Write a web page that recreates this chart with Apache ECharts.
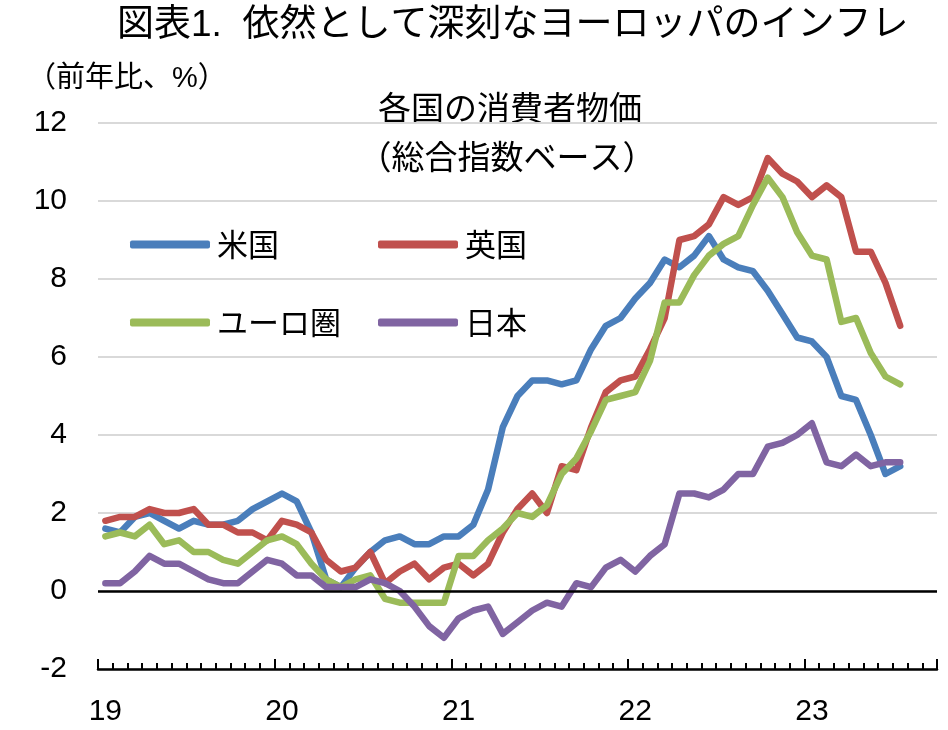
<!DOCTYPE html>
<html>
<head>
<meta charset="utf-8">
<script src="https://cdn.jsdelivr.net/npm/echarts@6/dist/echarts.min.js"></script>
<style>
  html, body { margin: 0; padding: 0; background: #fff; }
  #chart { width: 948px; height: 730px; }
</style>
</head>
<body>
<div id="chart"></div>
<script>
// 月次カテゴリ（2019年1月〜2023年9月）
const months = [
  '19/1','19/2','19/3','19/4','19/5','19/6','19/7','19/8','19/9','19/10','19/11','19/12',
  '20/1','20/2','20/3','20/4','20/5','20/6','20/7','20/8','20/9','20/10','20/11','20/12',
  '21/1','21/2','21/3','21/4','21/5','21/6','21/7','21/8','21/9','21/10','21/11','21/12',
  '22/1','22/2','22/3','22/4','22/5','22/6','22/7','22/8','22/9','22/10','22/11','22/12',
  '23/1','23/2','23/3','23/4','23/5','23/6','23/7','23/8','23/9'
];

// 前年比（%）
const usCpi = [
  1.6, 1.5, 1.9, 2.0, 1.8, 1.6, 1.8, 1.7, 1.7, 1.8, 2.1, 2.3,
  2.5, 2.3, 1.5, 0.3, 0.1, 0.6, 1.0, 1.3, 1.4, 1.2, 1.2, 1.4,
  1.4, 1.7, 2.6, 4.2, 5.0, 5.4, 5.4, 5.3, 5.4, 6.2, 6.8, 7.0,
  7.5, 7.9, 8.5, 8.3, 8.6, 9.1, 8.5, 8.3, 8.2, 7.7, 7.1, 6.5,
  6.4, 6.0, 5.0, 4.9, 4.0, 3.0, 3.2
];
const ukCpi = [
  1.8, 1.9, 1.9, 2.1, 2.0, 2.0, 2.1, 1.7, 1.7, 1.5, 1.5, 1.3,
  1.8, 1.7, 1.5, 0.8, 0.5, 0.6, 1.0, 0.2, 0.5, 0.7, 0.3, 0.6,
  0.7, 0.4, 0.7, 1.5, 2.1, 2.5, 2.0, 3.2, 3.1, 4.2, 5.1, 5.4,
  5.5, 6.2, 7.0, 9.0, 9.1, 9.4, 10.1, 9.9, 10.1, 11.1, 10.7, 10.5,
  10.1, 10.4, 10.1, 8.7, 8.7, 7.9, 6.8
];
const euroCpi = [
  1.4, 1.5, 1.4, 1.7, 1.2, 1.3, 1.0, 1.0, 0.8, 0.7, 1.0, 1.3,
  1.4, 1.2, 0.7, 0.3, 0.1, 0.3, 0.4, -0.2, -0.3, -0.3, -0.3, -0.3,
  0.9, 0.9, 1.3, 1.6, 2.0, 1.9, 2.2, 3.0, 3.4, 4.1, 4.9, 5.0,
  5.1, 5.9, 7.4, 7.4, 8.1, 8.6, 8.9, 9.1, 9.9, 10.6, 10.1, 9.2,
  8.6, 8.5, 6.9, 7.0, 6.1, 5.5, 5.3
];
const jpCpi = [
  0.2, 0.2, 0.5, 0.9, 0.7, 0.7, 0.5, 0.3, 0.2, 0.2, 0.5, 0.8,
  0.7, 0.4, 0.4, 0.1, 0.1, 0.1, 0.3, 0.2, 0.0, -0.4, -0.9, -1.2,
  -0.7, -0.5, -0.4, -1.1, -0.8, -0.5, -0.3, -0.4, 0.2, 0.1, 0.6, 0.8,
  0.5, 0.9, 1.2, 2.5, 2.5, 2.4, 2.6, 3.0, 3.0, 3.7, 3.8, 4.0,
  4.3, 3.3, 3.2, 3.5, 3.2, 3.3, 3.3
];

const seriesNames = ['米国', '英国', 'ユーロ圏', '日本'];
const seriesColors = ['#4a7ebb', '#c0504d', '#9bbb59', '#8064a2'];

const jpFont = '"Noto Sans CJK JP", sans-serif';
const numFont = '"Liberation Sans", "Noto Sans CJK JP", sans-serif';

function makeLine(name, data, color) {
  return {
    name,
    type: 'line',
    data,
    showSymbol: false,
    symbol: 'none',
    color,
    lineStyle: { width: 6.5, color, cap: 'round', join: 'round' }
  };
}

const series = [
  makeLine(seriesNames[0], usCpi, seriesColors[0]),
  makeLine(seriesNames[1], ukCpi, seriesColors[1]),
  makeLine(seriesNames[2], euroCpi, seriesColors[2]),
  makeLine(seriesNames[3], jpCpi, seriesColors[3])
];
// ゼロ線
series[0].markLine = {
  silent: true,
  symbol: 'none',
  label: { show: false },
  lineStyle: { color: '#000', width: 2.5, type: 'solid' },
  data: [{ yAxis: 0 }]
};

const legendBase = {
  orient: 'vertical',
  icon: 'roundRect',
  itemWidth: 80,
  itemHeight: 8,
  itemGap: 47,
  textStyle: { fontSize: 31, fontFamily: jpFont, color: '#000', lineHeight: 30, padding: [0, 0, 0, 2] }
};

const chart = echarts.init(document.getElementById('chart'));
const option = {
  animation: false,
  title: {
    text: '図表1.  依然として深刻なヨーロッパのインフレ',
    left: 112,
    top: 2,
    textStyle: { fontSize: 37, fontWeight: 'normal', fontFamily: numFont, color: '#000' }
  },
  legend: [
    Object.assign({}, legendBase, { left: 125, top: 224, data: [seriesNames[0], seriesNames[2]] }),
    Object.assign({}, legendBase, { left: 373, top: 224, data: [seriesNames[1], seriesNames[3]] })
  ],
  graphic: [
    {
      type: 'text', left: 27, top: 64,
      style: { text: '（前年比、%）', fontSize: 29, fontFamily: numFont, fill: '#000' }
    },
    {
      type: 'text', x: 510, y: 107,
      style: { text: '各国の消費者物価', fontSize: 33, fontFamily: jpFont, fill: '#000', textAlign: 'center', textVerticalAlign: 'middle' }
    },
    {
      type: 'text', x: 507, y: 156,
      style: { text: '（総合指数ベース）', fontSize: 33, fontFamily: jpFont, fill: '#000', textAlign: 'center', textVerticalAlign: 'middle' }
    }
  ],
  grid: { left: 98, right: 11, top: 123, bottom: 61, containLabel: false },
  xAxis: [
    {
      type: 'category',
      data: months,
      boundaryGap: true,
      position: 'bottom',
      axisLine: { onZero: false, lineStyle: { color: '#000', width: 2.5 } },
      axisTick: { show: true, inside: true, length: 6, interval: 0, lineStyle: { color: '#000', width: 2 } },
      axisLabel: {
        interval: (idx) => idx % 12 === 0,
        formatter: (v) => v.split('/')[0],
        fontSize: 30,
        fontFamily: numFont,
        color: '#000',
        margin: 28
      },
      splitLine: { show: false }
    },
    {
      type: 'category',
      data: months,
      boundaryGap: true,
      position: 'bottom',
      axisLine: { show: false, onZero: false },
      axisTick: { show: true, inside: true, length: 10, interval: (idx) => idx % 12 === 0, lineStyle: { color: '#000', width: 2 } },
      axisLabel: { show: false },
      splitLine: { show: false }
    }
  ],
  yAxis: {
    type: 'value',
    min: -2,
    max: 12,
    interval: 2,
    axisLine: { show: false },
    axisTick: { show: false },
    axisLabel: { fontSize: 30, fontFamily: numFont, color: '#000', margin: 31 },
    splitLine: { lineStyle: { color: '#d9d9d9', width: 2 } }
  },
  series
};
chart.setOption(option);
</script>
</body>
</html>
